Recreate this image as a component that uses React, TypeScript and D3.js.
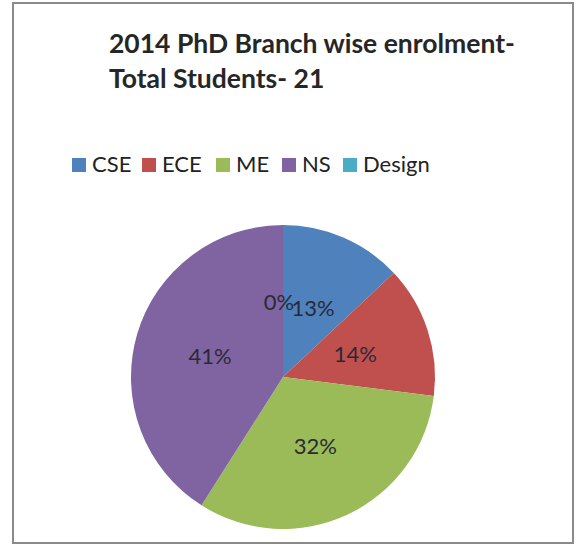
import React from "react";
import * as d3 from "d3";

const categories = ["CSE", "ECE", "ME", "NS", "Design"];
const values = [13, 14, 32, 41, 0];
const colors = ["#4F81BD", "#C0504D", "#9BBB59", "#8064A2", "#4BACC6"];
const titleLines = ["2014 PhD Branch wise enrolment-", "Total Students- 21"];

const W = 577;
const H = 546;
const FONT = "Lato, 'Open Sans', sans-serif";

export default function App() {
  const cx = 283;
  const cy = 377;
  const r = 152;
  const labelR = 76;

  const pie = d3.pie<number>().sort(null).value((d) => d);
  const arcs = pie(values);
  const arcGen = d3.arc<d3.PieArcDatum<number>>().innerRadius(0).outerRadius(r);
  const labelArc = d3.arc<d3.PieArcDatum<number>>().innerRadius(labelR).outerRadius(labelR);
  const total = d3.sum(values);

  const legendX = [72, 142, 216, 282, 343];

  return (
    <svg width={W} height={H} style={{ position: "absolute", left: 0, top: 0 }}>
      <rect x={0} y={0} width={W} height={H} fill="#fff" />
      <rect x={13} y={3} width={560} height={540} fill="#fff" stroke="#8a8a8a" strokeWidth={2} />
      {titleLines.map((t, i) => (
        <text key={i} x={109} y={53 + i * 35} fontFamily={FONT} fontWeight={700} fontSize={26.5} fill="#262626">
          {t}
        </text>
      ))}
      {categories.map((c, i) => (
        <g key={c}>
          <rect x={legendX[i]} y={158} width={14} height={14} fill={colors[i]} />
          <text x={legendX[i] + 20} y={172} fontFamily={FONT} fontSize={22} fill="#222">
            {c}
          </text>
        </g>
      ))}
      <g transform={`translate(${cx},${cy})`}>
        {arcs.map((a, i) => (
          <path key={i} d={arcGen(a) || ""} fill={colors[i]} />
        ))}
        {arcs.map((a, i) => {
          const [lx, ly] = labelArc.centroid(a);
          return (
            <text
              key={"l" + i}
              x={lx - (values[i] === 0 ? 4 : 0)}
              y={ly}
              textAnchor="middle"
              dominantBaseline="central"
              fontFamily={FONT}
              fontSize={22}
              fill="#2a2a36"
            >
              {Math.round((values[i] / total) * 100) + "%"}
            </text>
          );
        })}
      </g>
    </svg>
  );
}
